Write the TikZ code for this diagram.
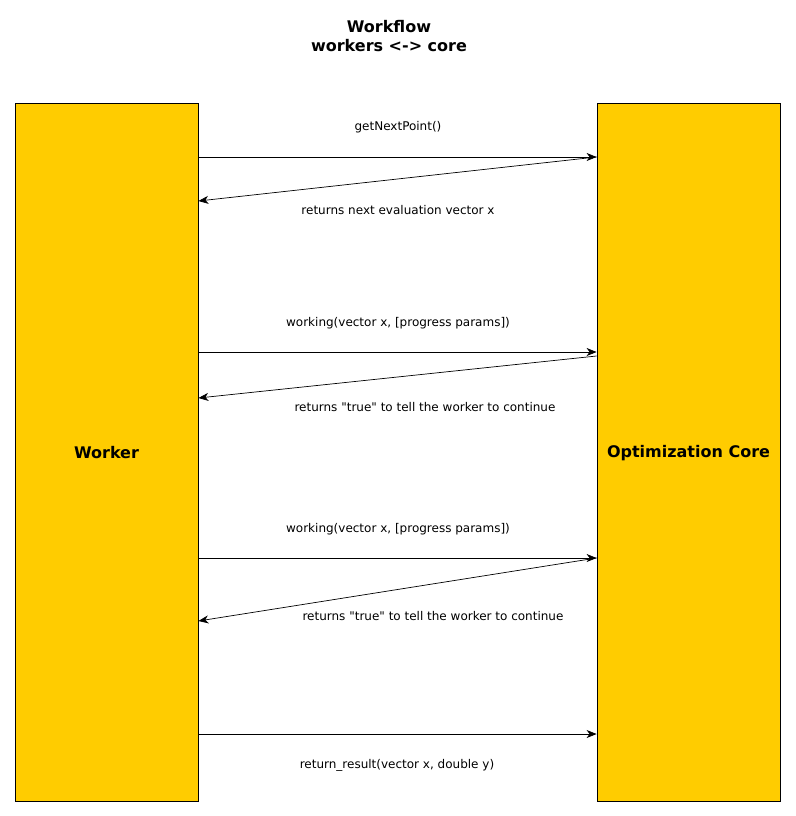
\documentclass[tikz,border=0pt]{standalone}
\usepackage{fontspec}
\setmainfont{DejaVu Sans}
\usetikzlibrary{arrows.meta}
\definecolor{boxfill}{HTML}{FFCC00}
\begin{document}
\begin{tikzpicture}[x=1pt,y=-1pt,
  lane/.style={draw=black, line width=0.8pt, fill=boxfill, minimum width=183pt, minimum height=698pt, inner sep=0pt},
  lanetext/.style={font=\fontsize{16}{19}\selectfont\bfseries, inner sep=0pt},
  msg/.style={draw=black, line width=0.7pt, -{Stealth[length=10pt,width=8pt,inset=3pt]}},
  lbl/.style={font=\fontsize{12}{14}\selectfont, inner sep=0pt},
  ttl/.style={font=\fontsize{16}{18.5}\selectfont\bfseries, align=center, inner sep=0pt}]
  \useasboundingbox (0,0) rectangle (795,816);

  \node[ttl] (title) at (389,36) {Workflow\\workers <-> core};

  \node[lane] (worker) at (106.5,452) {};
  \node[lane] (core) at (688.5,452) {};
  \node[lanetext] (workertext) at (106.5,453) {Worker};
  \node[lanetext] (coretext) at (688.5,453) {Optimization Core};

  % anchor points on the facing edges of the two lanes
  \coordinate (w1) at (worker.north east |- 0,157);
  \coordinate (c1) at (core.north west |- 0,157);
  \coordinate (w2) at (worker.north east |- 0,201);
  \coordinate (w3) at (worker.north east |- 0,352);
  \coordinate (c3) at (core.north west |- 0,352);
  \coordinate (c4) at (core.north west |- 0,356);
  \coordinate (w4) at (worker.north east |- 0,398);
  \coordinate (w5) at (worker.north east |- 0,558);
  \coordinate (c5) at (core.north west |- 0,558);
  \coordinate (w6) at (worker.north east |- 0,621);
  \coordinate (w7) at (worker.north east |- 0,734);
  \coordinate (c7) at (core.north west |- 0,734);

  \draw[msg] (w1) -- (c1);
  \draw[msg] (c1) -- (w2);
  \draw[msg] (w3) -- (c3);
  \draw[msg] (c4) -- (w4);
  \draw[msg] (w5) -- (c5);
  \draw[msg] (c5) -- (w6);
  \draw[msg] (w7) -- (c7);

  \node[lbl] (l1) at (398,127) {getNextPoint()};
  \node[lbl] (l2) at (398,210) {returns next evaluation vector x};
  \node[lbl] (l3) at (398,323) {working(vector x, [progress params])};
  \node[lbl] (l4) at (425,407) {returns \textquotedbl true\textquotedbl{} to tell the worker to continue};
  \node[lbl] (l5) at (398,529) {working(vector x, [progress params])};
  \node[lbl] (l6) at (433,616) {returns \textquotedbl true\textquotedbl{} to tell the worker to continue};
  \node[lbl] (l7) at (397,765) {return\_result(vector x, double y)};
\end{tikzpicture}
\end{document}
